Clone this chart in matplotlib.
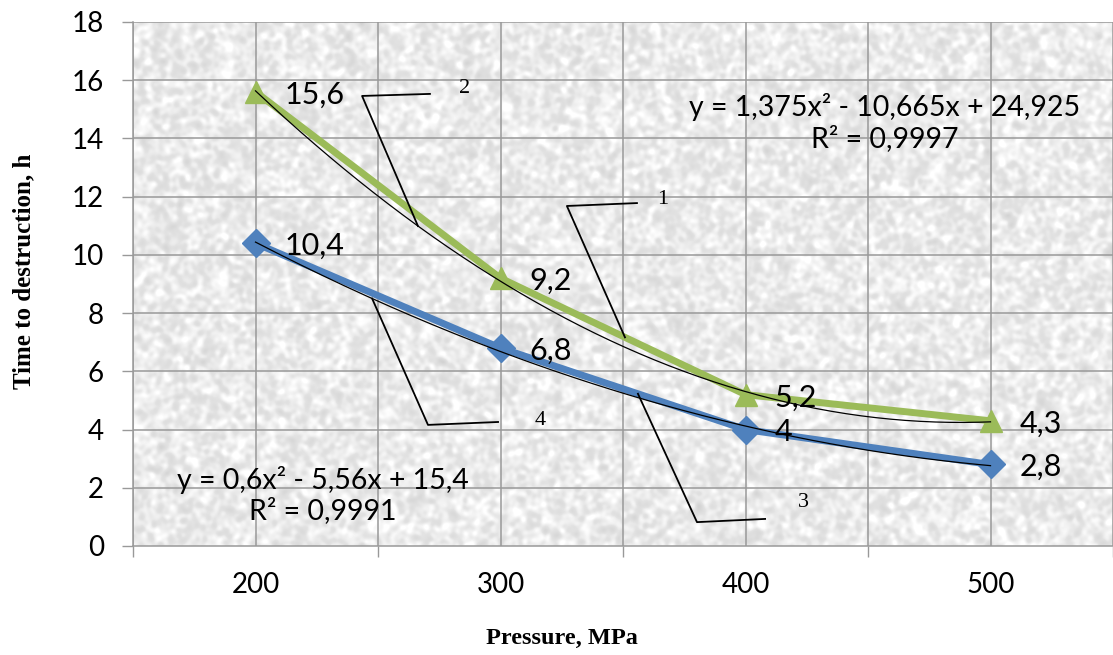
import numpy as np
import matplotlib
matplotlib.use("Agg")
import matplotlib.pyplot as plt

pressure = ["200", "300", "400", "500"]
time_green = [15.6, 9.2, 5.2, 4.3]
time_blue = [10.4, 6.8, 4.0, 2.8]
labels_green = ["15,6", "9,2", "5,2", "4,3"]
labels_blue = ["10,4", "6,8", "4", "2,8"]

# quadratic trendlines (x = 1..4 over the categories)
coef_green = [1.375, -10.665, 24.925]
coef_blue = [0.6, -5.56, 15.4]
eq_green = "y = 1,375x\u00b2 - 10,665x + 24,925\nR\u00b2 = 0,9997"
eq_blue = "y = 0,6x\u00b2 - 5,56x + 15,4\nR\u00b2 = 0,9991"

GREEN = "#9bbb59"
BLUE = "#4f81bd"
GRID = "#999999"
SANS = ["Lato", "DejaVu Sans"]
SERIF = "Liberation Serif"

x = np.arange(len(pressure))
xs = np.linspace(0, 3, 200)

fig = plt.figure(figsize=(11.13, 6.55), dpi=100)
ax = fig.add_axes([133 / 1113, 1 - 546 / 655, 1 - 133 / 1113, 524 / 655])
ax.set_xlim(-0.5, 3.5)
ax.set_ylim(0, 18)

# light granite texture behind the grid (gaussian-blurred noise via fft)
rng = np.random.default_rng(11)
h, w = 524, 980
noise = rng.standard_normal((h, w))
fy = np.fft.fftfreq(h)[:, None]
fx = np.fft.fftfreq(w)[None, :]
sig = 2.2
blur = np.exp(-2 * (np.pi * sig) ** 2 * (fx ** 2 + fy ** 2))
tex = np.real(np.fft.ifft2(np.fft.fft2(noise) * blur))
tex = (tex - tex.mean()) / tex.std()
tex = 0.90 + 0.038 * tex - 0.02 * np.clip(tex, None, -1.0)
ax.imshow(np.clip(tex, 0, 1), cmap="gray", vmin=0, vmax=1, extent=(-0.5, 3.5, 0, 18),
          aspect="auto", zorder=0, interpolation="bilinear")

for gx in np.arange(-0.5, 3.6, 0.5):
    ax.axvline(gx, color=GRID, lw=1.1, zorder=1)
for gy in np.arange(2, 19, 2):
    ax.axhline(gy, color=GRID, lw=1.1, zorder=1)

ax.plot(x, time_blue, color=BLUE, lw=5, marker="D", ms=14, zorder=3)
ax.plot(x, time_green, color=GREEN, lw=5, marker="^", ms=16, zorder=3)
ax.plot(xs, np.polyval(coef_blue, xs + 1), color="black", lw=0.9, zorder=4)
ax.plot(xs, np.polyval(coef_green, xs + 1), color="black", lw=0.9, zorder=4)

for xi, v, s in zip(x, time_green, labels_green):
    ax.annotate(s, (xi, v), xytext=(21, -2), textcoords="offset points",
                ha="left", va="center", fontsize=22, family=SANS, zorder=5)
for xi, v, s in zip(x, time_blue, labels_blue):
    ax.annotate(s, (xi, v), xytext=(21, -2), textcoords="offset points",
                ha="left", va="center", fontsize=22, family=SANS, zorder=5)

ax.text(2.569, 14.55, eq_green, ha="center", va="center", fontsize=20.5, family=SANS,
        linespacing=1.15, zorder=5)
ax.text(0.276, 1.75, eq_blue, ha="center", va="center", fontsize=20.5, family=SANS,
        linespacing=1.15, zorder=5)

# numbered leader lines: anchor x on a curve, then elbow and end points
leaders = [
    ("1", np.interp(1.508, x, time_green), 1.508, (1.271, 11.68), (1.557, 11.78), (1.66, 11.9)),
    ("2", np.polyval(coef_green, 1.663), 0.663, (0.435, 15.46), (0.712, 15.53), (0.855, 15.7)),
    ("3", np.interp(1.561, x, time_blue), 1.561, (1.802, 0.82), (2.08, 0.93), (2.235, 1.5)),
    ("4", np.polyval(coef_blue, 1.476), 0.476, (0.704, 4.16), (0.99, 4.26), (1.16, 4.3)),
]
for name, ay, axx, elbow, end, lab in leaders:
    ax.plot([axx, elbow[0], end[0]], [ay, elbow[1], end[1]], color="black", lw=1.3, zorder=5)
    ax.text(lab[0], lab[1], name, ha="center", va="center", fontsize=16, family=SERIF, zorder=5)

ax.set_yticks(np.arange(0, 19, 2))
ax.set_xticks(x)
ax.set_xticklabels(pressure)
ax.set_xticks(np.arange(-0.5, 3.6, 1), minor=True)
ax.tick_params(axis="y", length=8, width=1, color=GRID, pad=13, labelsize=20)
ax.tick_params(axis="x", which="major", length=0, pad=19, labelsize=20)
ax.tick_params(axis="x", which="minor", length=8, width=1, color=GRID)
for t in ax.get_xticklabels() + ax.get_yticklabels():
    t.set_family(SANS)

for side in ["top", "right"]:
    ax.spines[side].set_visible(False)
for side in ["left", "bottom"]:
    ax.spines[side].set_color(GRID)
    ax.spines[side].set_linewidth(1.1)

fig.text(562 / 1113, 1 - 638 / 655, "Pressure, MPa", ha="center", va="center",
         fontsize=17.5, fontweight="bold", family=SERIF)
fig.text(24 / 1113, 1 - 271 / 655, "Time to destruction, h", ha="center", va="center",
         rotation=90, fontsize=18, fontweight="bold", family=SERIF)

fig.savefig("out.png", dpi=100)
